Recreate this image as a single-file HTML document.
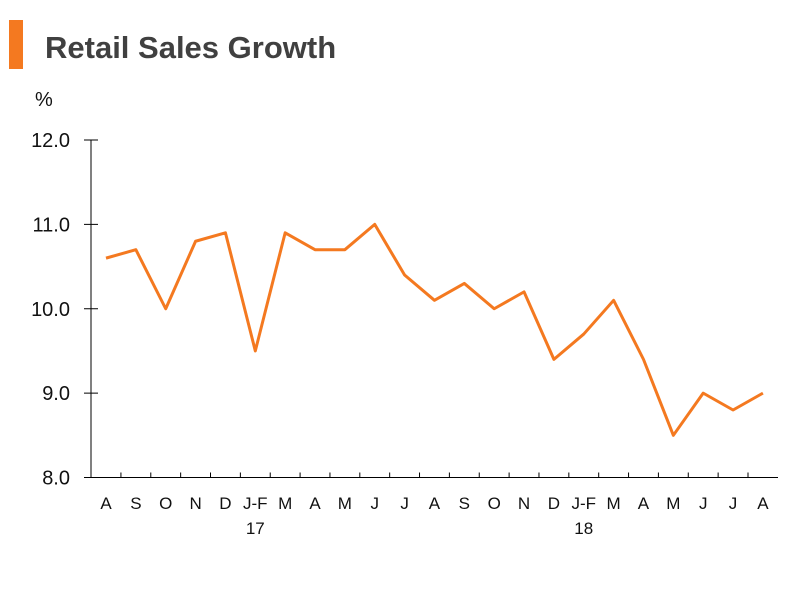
<!DOCTYPE html>
<html><head><meta charset="utf-8"><style>
body{margin:0;background:#fff;width:797px;height:587px;overflow:hidden;font-family:"Liberation Sans",Arial,sans-serif}
</style></head><body>
<svg width="797" height="587" xmlns="http://www.w3.org/2000/svg">
<rect x="9" y="20" width="14" height="49" fill="#f47920"/>
<text x="45" y="58" font-size="31" font-weight="bold" fill="#404040" font-family="Liberation Sans, sans-serif">Retail Sales Growth</text>
<text x="35" y="106" font-size="20" fill="#111" font-family="Liberation Sans, sans-serif">%</text>
<g id="axes"></g>
<polyline id="line" fill="none" stroke="#f47920" stroke-width="3" stroke-linejoin="round"/>
</svg>
<script>
const categories=["A","S","O","N","D","J-F","M","A","M","J","J","A","S","O","N","D","J-F","M","A","M","J","J","A"];
const yearLabels={5:"17",16:"18"};
const values=[10.6,10.7,10.0,10.8,10.9,9.5,10.9,10.7,10.7,11.0,10.4,10.1,10.3,10.0,10.2,9.4,9.7,10.1,9.4,8.5,9.0,8.8,9.0];
const yTicks=[8,9,10,11,12];
const yTickLabels=["8.0","9.0","10.0","11.0","12.0"];
const NS="http://www.w3.org/2000/svg";
const x0=106,dx=29.86,yBase=477.5,yTop=140;
const xs=i=>x0+i*dx;
const ys=v=>yBase-(v-8)*(yBase-yTop)/4;
const g=document.getElementById('axes');
function mk(t,a){const e=document.createElementNS(NS,t);for(const k in a)e.setAttribute(k,a[k]);g.appendChild(e);return e;}
let e=mk('line',{x1:91,y1:yTop,x2:91,y2:yBase,stroke:'#000','stroke-width':1});


e=mk('line',{x1:84,y1:yBase,x2:778,y2:yBase,stroke:'#000','stroke-width':1});


yTicks.forEach((v,i)=>{
 let t=mk('line',{x1:84,y1:ys(v),x2:98,y2:ys(v),stroke:'#000','stroke-width':1});
 
 
 let l=mk('text',{x:70,y:ys(v)+7,'text-anchor':'end','font-size':20,fill:'#111'});
 l.textContent=yTickLabels[i];
 
 
});
categories.forEach((c,i)=>{
 if(i<categories.length-1){
  let t=mk('line',{x1:xs(i)+dx/2,y1:yBase,x2:xs(i)+dx/2,y2:yBase-5,stroke:'#000','stroke-width':1});
  
  
 }
 let l=mk('text',{x:xs(i),y:509,'text-anchor':'middle','font-size':17,fill:'#111'});
 l.textContent=c;
 
 
 if(yearLabels[i]){
  let y=mk('text',{x:xs(i),y:534,'text-anchor':'middle','font-size':17,fill:'#111'});
  y.textContent=yearLabels[i];
  
  
 }
});
document.getElementById('line').setAttribute('points',values.map((v,i)=>xs(i)+','+ys(v)).join(' '));
</script>
</body></html>
